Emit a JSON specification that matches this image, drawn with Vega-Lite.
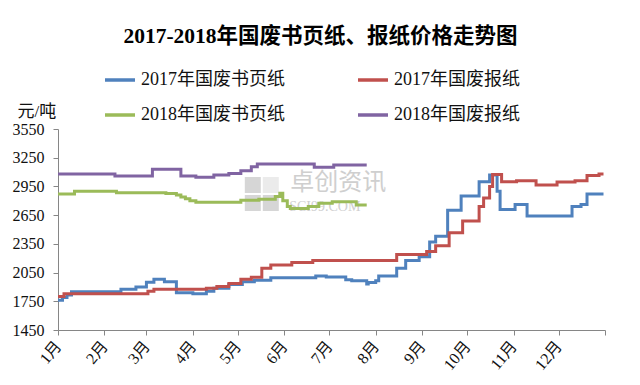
{
  "$schema": "https://vega.github.io/schema/vega-lite/v6.json",
  "width": 547,
  "height": 201,
  "autosize": {"type": "none"},
  "padding": {"left": 58, "top": 129, "right": 35, "bottom": 55},
  "background": "white",
  "title": {
    "text": "2017-2018年国废书页纸、报纸价格走势图",
    "font": "Liberation Serif, Noto Sans CJK SC",
    "fontSize": 21.5,
    "fontWeight": "bold",
    "color": "#000000",
    "anchor": "middle",
    "frame": "group",
    "dx": -11,
    "offset": 16
  },
  "config": {
    "view": {"stroke": null},
    "axis": {
      "labelFont": "Liberation Serif, Noto Sans CJK SC",
      "titleFont": "Liberation Serif, Noto Sans CJK SC",
      "labelColor": "#111111",
      "titleColor": "#111111",
      "domainColor": "#868686",
      "tickColor": "#868686",
      "grid": false,
      "tickSize": 5,
      "labelOverlap": false
    },
    "legend": {
      "labelFont": "Liberation Serif, Noto Sans CJK SC"
    }
  },
  "datasets": {
    "prices": [
      {"series": "2017年国废书页纸", "date": "2017-01-01", "price": 1760},
      {"series": "2017年国废书页纸", "date": "2017-01-04", "price": 1790},
      {"series": "2017年国废书页纸", "date": "2017-01-07", "price": 1815},
      {"series": "2017年国废书页纸", "date": "2017-01-10", "price": 1850},
      {"series": "2017年国废书页纸", "date": "2017-02-12", "price": 1875},
      {"series": "2017年国废书页纸", "date": "2017-02-22", "price": 1900},
      {"series": "2017年国废书页纸", "date": "2017-03-01", "price": 1950},
      {"series": "2017年国废书页纸", "date": "2017-03-06", "price": 1980},
      {"series": "2017年国废书页纸", "date": "2017-03-13", "price": 1955},
      {"series": "2017年国废书页纸", "date": "2017-03-21", "price": 1840},
      {"series": "2017年国废书页纸", "date": "2017-04-01", "price": 1830},
      {"series": "2017年国废书页纸", "date": "2017-04-10", "price": 1855},
      {"series": "2017年国废书页纸", "date": "2017-04-15", "price": 1885},
      {"series": "2017年国废书页纸", "date": "2017-04-25", "price": 1925},
      {"series": "2017年国废书页纸", "date": "2017-05-04", "price": 1955},
      {"series": "2017年国废书页纸", "date": "2017-05-12", "price": 1970},
      {"series": "2017年国废书页纸", "date": "2017-05-23", "price": 1995},
      {"series": "2017年国废书页纸", "date": "2017-06-22", "price": 2015},
      {"series": "2017年国废书页纸", "date": "2017-06-29", "price": 2005},
      {"series": "2017年国废书页纸", "date": "2017-07-12", "price": 1975},
      {"series": "2017年国废书页纸", "date": "2017-07-16", "price": 1965},
      {"series": "2017年国废书页纸", "date": "2017-07-26", "price": 1930},
      {"series": "2017年国废书页纸", "date": "2017-07-27", "price": 1945},
      {"series": "2017年国废书页纸", "date": "2017-08-01", "price": 1965},
      {"series": "2017年国废书页纸", "date": "2017-08-03", "price": 2015},
      {"series": "2017年国废书页纸", "date": "2017-08-15", "price": 2095},
      {"series": "2017年国废书页纸", "date": "2017-08-21", "price": 2175},
      {"series": "2017年国废书页纸", "date": "2017-08-30", "price": 2215},
      {"series": "2017年国废书页纸", "date": "2017-09-06", "price": 2370},
      {"series": "2017年国废书页纸", "date": "2017-09-10", "price": 2430},
      {"series": "2017年国废书页纸", "date": "2017-09-18", "price": 2700},
      {"series": "2017年国废书页纸", "date": "2017-09-27", "price": 2850},
      {"series": "2017年国废书页纸", "date": "2017-10-09", "price": 3000},
      {"series": "2017年国废书页纸", "date": "2017-10-16", "price": 3070},
      {"series": "2017年国废书页纸", "date": "2017-10-21", "price": 2900},
      {"series": "2017年国废书页纸", "date": "2017-10-23", "price": 2710},
      {"series": "2017年国废书页纸", "date": "2017-11-02", "price": 2760},
      {"series": "2017年国废书页纸", "date": "2017-11-10", "price": 2640},
      {"series": "2017年国废书页纸", "date": "2017-12-10", "price": 2740},
      {"series": "2017年国废书页纸", "date": "2017-12-16", "price": 2760},
      {"series": "2017年国废书页纸", "date": "2017-12-20", "price": 2870},
      {"series": "2017年国废书页纸", "date": "2017-12-31", "price": 2870},

      {"series": "2017年国废报纸", "date": "2017-01-01", "price": 1800},
      {"series": "2017年国废报纸", "date": "2017-01-05", "price": 1830},
      {"series": "2017年国废报纸", "date": "2017-03-02", "price": 1855},
      {"series": "2017年国废报纸", "date": "2017-03-06", "price": 1875},
      {"series": "2017年国废报纸", "date": "2017-04-10", "price": 1885},
      {"series": "2017年国废报纸", "date": "2017-04-17", "price": 1905},
      {"series": "2017年国废报纸", "date": "2017-04-25", "price": 1935},
      {"series": "2017年国废报纸", "date": "2017-05-03", "price": 1980},
      {"series": "2017年国废报纸", "date": "2017-05-10", "price": 2000},
      {"series": "2017年国废报纸", "date": "2017-05-17", "price": 2095},
      {"series": "2017年国废报纸", "date": "2017-05-23", "price": 2130},
      {"series": "2017年国废报纸", "date": "2017-06-06", "price": 2155},
      {"series": "2017年国废报纸", "date": "2017-06-20", "price": 2175},
      {"series": "2017年国废报纸", "date": "2017-08-15", "price": 2240},
      {"series": "2017年国废报纸", "date": "2017-09-04", "price": 2270},
      {"series": "2017年国废报纸", "date": "2017-09-10", "price": 2330},
      {"series": "2017年国废报纸", "date": "2017-09-19", "price": 2465},
      {"series": "2017年国废报纸", "date": "2017-09-28", "price": 2590},
      {"series": "2017年国废报纸", "date": "2017-10-09", "price": 2740},
      {"series": "2017年国废报纸", "date": "2017-10-12", "price": 2830},
      {"series": "2017年国废报纸", "date": "2017-10-16", "price": 2950},
      {"series": "2017年国废报纸", "date": "2017-10-18", "price": 3075},
      {"series": "2017年国废报纸", "date": "2017-10-24", "price": 3000},
      {"series": "2017年国废报纸", "date": "2017-11-03", "price": 3010},
      {"series": "2017年国废报纸", "date": "2017-11-16", "price": 2965},
      {"series": "2017年国废报纸", "date": "2017-11-30", "price": 2995},
      {"series": "2017年国废报纸", "date": "2017-12-12", "price": 3010},
      {"series": "2017年国废报纸", "date": "2017-12-20", "price": 3065},
      {"series": "2017年国废报纸", "date": "2017-12-28", "price": 3080},
      {"series": "2017年国废报纸", "date": "2017-12-31", "price": 3080},

      {"series": "2018年国废书页纸", "date": "2017-01-01", "price": 2870},
      {"series": "2018年国废书页纸", "date": "2017-01-12", "price": 2900},
      {"series": "2018年国废书页纸", "date": "2017-02-09", "price": 2885},
      {"series": "2018年国废书页纸", "date": "2017-03-14", "price": 2875},
      {"series": "2018年国废书页纸", "date": "2017-03-21", "price": 2860},
      {"series": "2018年国废书页纸", "date": "2017-03-24", "price": 2840},
      {"series": "2018年国废书页纸", "date": "2017-03-27", "price": 2820},
      {"series": "2018年国废书页纸", "date": "2017-03-30", "price": 2800},
      {"series": "2018年国废书页纸", "date": "2017-04-03", "price": 2785},
      {"series": "2018年国废书页纸", "date": "2017-05-03", "price": 2805},
      {"series": "2018年国废书页纸", "date": "2017-05-15", "price": 2815},
      {"series": "2018年国废书页纸", "date": "2017-05-26", "price": 2845},
      {"series": "2018年国废书页纸", "date": "2017-05-29", "price": 2880},
      {"series": "2018年国废书页纸", "date": "2017-05-31", "price": 2800},
      {"series": "2018年国废书页纸", "date": "2017-06-03", "price": 2740},
      {"series": "2018年国废书页纸", "date": "2017-06-05", "price": 2720},
      {"series": "2018年国废书页纸", "date": "2017-06-17", "price": 2740},
      {"series": "2018年国废书页纸", "date": "2017-06-24", "price": 2775},
      {"series": "2018年国废书页纸", "date": "2017-07-03", "price": 2790},
      {"series": "2018年国废书页纸", "date": "2017-07-19", "price": 2755},
      {"series": "2018年国废书页纸", "date": "2017-07-26", "price": 2755},

      {"series": "2018年国废报纸", "date": "2017-01-01", "price": 3080},
      {"series": "2018年国废报纸", "date": "2017-02-08", "price": 3060},
      {"series": "2018年国废报纸", "date": "2017-03-05", "price": 3130},
      {"series": "2018年国废报纸", "date": "2017-03-24", "price": 3060},
      {"series": "2018年国废报纸", "date": "2017-04-03", "price": 3045},
      {"series": "2018年国废报纸", "date": "2017-04-15", "price": 3070},
      {"series": "2018年国废报纸", "date": "2017-04-25", "price": 3085},
      {"series": "2018年国废报纸", "date": "2017-05-03", "price": 3115},
      {"series": "2018年国废报纸", "date": "2017-05-10", "price": 3155},
      {"series": "2018年国废报纸", "date": "2017-05-14", "price": 3185},
      {"series": "2018年国废报纸", "date": "2017-06-21", "price": 3150},
      {"series": "2018年国废报纸", "date": "2017-07-04", "price": 3175},
      {"series": "2018年国废报纸", "date": "2017-07-26", "price": 3175}
    ]
  },
  "layer": [
    {
      "data": {"values": [
        {"date": "2017-05-11", "price": 2965},
        {"date": "2017-05-11", "price": 2777},
        {"date": "2017-05-23", "price": 2777}
      ]},
      "mark": {"type": "point", "shape": "square", "filled": true, "size": 256, "color": "#c8c8c8", "opacity": 0.75},
      "encoding": {
        "x": {"field": "date", "type": "temporal"},
        "y": {"field": "price", "type": "quantitative"}
      }
    },
    {
      "data": {"values": [{"date": "2017-05-23", "price": 2965}]},
      "mark": {"type": "point", "shape": "square", "filled": true, "size": 256, "color": "#e4e4e4", "opacity": 0.75},
      "encoding": {
        "x": {"field": "date", "type": "temporal"},
        "y": {"field": "price", "type": "quantitative"}
      }
    },
    {
      "data": {"values": [{"date": "2017-07-07", "price": 2985, "label": "卓创资讯"}]},
      "mark": {"type": "text", "font": "Noto Sans CJK SC", "fontSize": 24, "color": "#c4c4c4", "opacity": 0.8},
      "encoding": {
        "x": {"field": "date", "type": "temporal"},
        "y": {"field": "price", "type": "quantitative"},
        "text": {"field": "label"}
      }
    },
    {
      "data": {"values": [{"date": "2017-06-28", "price": 2740, "label": "SCI99.COM"}]},
      "mark": {"type": "text", "font": "Liberation Serif", "fontSize": 14, "color": "#c4c4c4", "opacity": 0.8},
      "encoding": {
        "x": {"field": "date", "type": "temporal"},
        "y": {"field": "price", "type": "quantitative"},
        "text": {"field": "label"}
      }
    },
    {
      "data": {"name": "prices"},
      "mark": {"type": "line", "interpolate": "step-after", "strokeWidth": 3},
      "encoding": {
        "x": {
          "field": "date",
          "type": "temporal",
          "scale": {"type": "utc", "domain": [{"year": 2017, "month": 1, "date": 1, "utc": true}, {"year": 2018, "month": 1, "date": 1, "utc": true}]},
          "axis": {
            "title": null,
            "tickCount": 20,
            "values": [
              {"year": 2017, "month": 1, "date": 1, "utc": true},
              {"year": 2017, "month": 2, "date": 1, "utc": true},
              {"year": 2017, "month": 3, "date": 1, "utc": true},
              {"year": 2017, "month": 4, "date": 1, "utc": true},
              {"year": 2017, "month": 5, "date": 1, "utc": true},
              {"year": 2017, "month": 6, "date": 1, "utc": true},
              {"year": 2017, "month": 7, "date": 1, "utc": true},
              {"year": 2017, "month": 8, "date": 1, "utc": true},
              {"year": 2017, "month": 9, "date": 1, "utc": true},
              {"year": 2017, "month": 10, "date": 1, "utc": true},
              {"year": 2017, "month": 11, "date": 1, "utc": true},
              {"year": 2017, "month": 12, "date": 1, "utc": true},
              {"year": 2018, "month": 1, "date": 1, "utc": true}
            ],
            "labelExpr": "utcyear(datum.value) > 2017 ? '' : (utcmonth(datum.value) + 1) + '月'",
            "labelAngle": -50,
            "labelAlign": "right",
            "labelBaseline": "middle",
            "labelFontSize": 16,
            "labelPadding": 8,
            "labelOverlap": false,
            "labelFlush": false
          }
        },
        "y": {
          "field": "price",
          "type": "quantitative",
          "scale": {"domain": [1450, 3550], "nice": false, "zero": false},
          "axis": {
            "tickCount": 12,
            "values": [1450, 1750, 2050, 2350, 2650, 2950, 3250, 3550],
            "format": "d",
            "labelOverlap": false,
            "labelFontSize": 16,
            "labelPadding": 9,
            "labelFlush": false,
            "title": "元/吨",
            "titleAngle": 0,
            "titleAlign": "left",
            "titleBaseline": "middle",
            "titleX": -41,
            "titleY": -18,
            "titleFontSize": 17,
            "titleFontWeight": "normal"
          }
        },
        "color": {
          "field": "series",
          "type": "nominal",
          "sort": ["2017年国废书页纸", "2018年国废书页纸", "2017年国废报纸", "2018年国废报纸"],
          "scale": {
            "domain": ["2017年国废书页纸", "2018年国废书页纸", "2017年国废报纸", "2018年国废报纸"],
            "range": ["#4F81BD", "#9BBB59", "#C0504D", "#8064A2"]
          },
          "legend": {
            "title": null,
            "orient": "none",
            "legendX": 45,
            "legendY": -66,
            "columns": 2,
            "columnPadding": 66,
            "rowPadding": 9,
            "padding": 0,
            "symbolType": "stroke",
            "symbolSize": 900,
            "symbolStrokeWidth": 3.5,
            "labelFontSize": 18,
            "labelOffset": 4,
            "labelColor": "#111111"
          }
        }
      }
    }
  ]
}
